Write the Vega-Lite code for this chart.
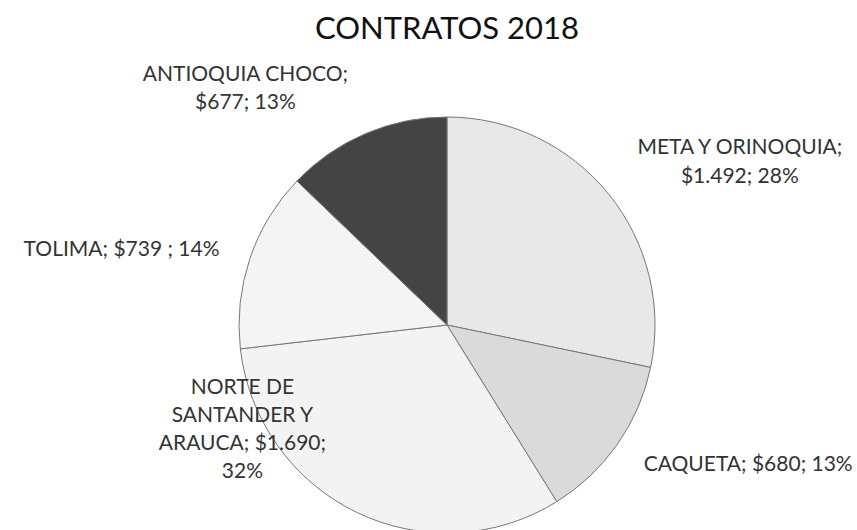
{
  "$schema": "https://vega.github.io/schema/vega-lite/v6.json",
  "width": 820,
  "height": 450,
  "autosize": {"type": "none"},
  "padding": {"left": 37, "top": 100, "right": 0, "bottom": 0},
  "background": "white",
  "title": {"text": "CONTRATOS 2018", "font": "Lato", "fontSize": 31, "fontWeight": "normal", "color": "#111111", "anchor": "middle", "frame": "group", "offset": 18},
  "data": {"values": [
    {"region": "META Y ORINOQUIA", "valor": 1492, "orden": 1, "label": "META Y ORINOQUIA;\n$1.492; 28%"},
    {"region": "CAQUETA", "valor": 680, "orden": 2, "label": "CAQUETA; $680; 13%"},
    {"region": "NORTE DE SANTANDER Y ARAUCA", "valor": 1690, "orden": 3, "label": "NORTE DE\nSANTANDER Y\nARAUCA; $1.690;\n32%"},
    {"region": "TOLIMA", "valor": 739, "orden": 4, "label": "TOLIMA; $739 ; 14%"},
    {"region": "ANTIOQUIA CHOCO", "valor": 677, "orden": 5, "label": "ANTIOQUIA CHOCO;\n$677; 13%"}
  ]},
  "transform": [
    {"stack": "valor", "groupby": [], "sort": [{"field": "orden", "order": "ascending"}], "as": ["v0", "v1"]}
  ],
  "layer": [
    {
      "mark": {"type": "arc", "outerRadius": 208, "stroke": "#777777", "strokeWidth": 1},
      "encoding": {
        "theta": {"field": "v1", "type": "quantitative", "scale": {"zero": true}},
        "theta2": {"field": "v0"},
        "color": {"field": "region", "type": "nominal", "legend": null,
          "scale": {"domain": ["META Y ORINOQUIA", "CAQUETA", "NORTE DE SANTANDER Y ARAUCA", "TOLIMA", "ANTIOQUIA CHOCO"],
                    "range": ["#e8e8e8", "#dadada", "#f3f3f3", "#f4f4f4", "#444444"]}}
      }
    },
    {
      "transform": [{"filter": "datum.orden == 1"}],
      "mark": {"type": "text", "radius": 342, "thetaOffset": 1.028, "font": "Lato", "fontSize": 21, "color": "#333333", "lineBreak": "\n", "lineHeight": 29, "align": "center", "baseline": "middle"},
      "encoding": {"theta": {"field": "v0", "type": "quantitative"}, "text": {"field": "label"}}
    },
    {
      "transform": [{"filter": "datum.orden == 2"}],
      "mark": {"type": "text", "radius": 332, "thetaOffset": 0.229, "font": "Lato", "fontSize": 21, "color": "#333333", "lineBreak": "\n", "lineHeight": 28, "align": "center", "baseline": "middle"},
      "encoding": {"theta": {"field": "v0", "type": "quantitative"}, "text": {"field": "label"}}
    },
    {
      "transform": [{"filter": "datum.orden == 3"}],
      "mark": {"type": "text", "radius": 214, "thetaOffset": 1.829, "font": "Lato", "fontSize": 21, "color": "#333333", "lineBreak": "\n", "lineHeight": 28, "align": "center", "baseline": "middle"},
      "encoding": {"theta": {"field": "v0", "type": "quantitative"}, "text": {"field": "label"}}
    },
    {
      "transform": [{"filter": "datum.orden == 4"}],
      "mark": {"type": "text", "radius": 334, "thetaOffset": 0.342, "font": "Lato", "fontSize": 21, "color": "#333333", "lineBreak": "\n", "lineHeight": 28, "align": "center", "baseline": "middle"},
      "encoding": {"theta": {"field": "v0", "type": "quantitative"}, "text": {"field": "label"}}
    },
    {
      "transform": [{"filter": "datum.orden == 5"}],
      "mark": {"type": "text", "radius": 321, "thetaOffset": 0.127, "font": "Lato", "fontSize": 21, "color": "#333333", "lineBreak": "\n", "lineHeight": 28, "align": "center", "baseline": "middle"},
      "encoding": {"theta": {"field": "v0", "type": "quantitative"}, "text": {"field": "label"}}
    }
  ]
}
